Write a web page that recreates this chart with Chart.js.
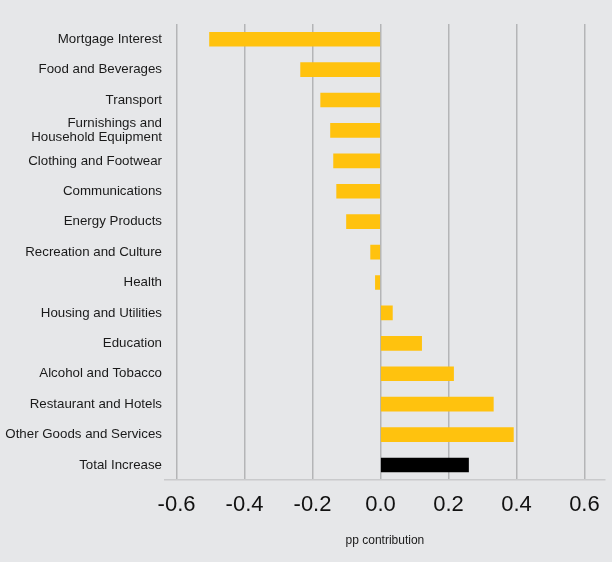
<!DOCTYPE html>
<html>
<head>
<meta charset="utf-8">
<script src="https://cdn.jsdelivr.net/npm/chart.js@4"></script>
<style>
  html, body { margin: 0; padding: 0; background: #e6e7e9; }
  #wrap { width: 612px; height: 562px; }
</style>
</head>
<body>
<div id="wrap"><canvas id="contribChart" width="612" height="562"></canvas></div>
<script>
const categories = [
    'Mortgage Interest',
    'Food and Beverages',
    'Transport',
    ['Furnishings and', 'Household Equipment'],
    'Clothing and Footwear',
    'Communications',
    'Energy Products',
    'Recreation and Culture',
    'Health',
    'Housing and Utilities',
    'Education',
    'Alcohol and Tobacco',
    'Restaurant and Hotels',
    'Other Goods and Services',
    'Total Increase'
];
const contributions = [-0.503, -0.235, -0.176, -0.147, -0.138, -0.129, -0.100, -0.029, -0.015, 0.035, 0.121, 0.215, 0.332, 0.391, 0.259];
const tickValues = [-0.6, -0.4, -0.2, 0.0, 0.2, 0.4, 0.6];

const barColors = categories.map((c, i) => i === categories.length - 1 ? '#000000' : '#ffc20e');

Chart.defaults.font.family = '"Liberation Sans", Arial, Helvetica, sans-serif';
Chart.defaults.color = '#1a1a1a';

const ctx = document.getElementById('contribChart').getContext('2d');
new Chart(ctx, {
    type: 'bar',
    data: {
        labels: categories,
        datasets: [{
            label: 'pp contribution',
            data: contributions,
            backgroundColor: barColors,
            borderWidth: 0,
            barThickness: 14
        }]
    },
    options: {
        indexAxis: 'y',
        responsive: false,
        animation: false,
        layout: {
            padding: { top: 24, right: 6, bottom: 14, left: 0 }
        },
        plugins: {
            legend: { display: false },
            tooltip: { enabled: false }
        },
        scales: {
            x: {
                min: -0.634,
                max: 0.66,
                afterBuildTicks: function(scale) {
                    scale.ticks = tickValues.map(v => ({ value: v }));
                },
                grid: {
                    color: '#b4b5b7',
                    lineWidth: 1.5,
                    drawTicks: false
                },
                border: {
                    display: true,
                    color: '#c9cacc',
                    width: 1.5
                },
                ticks: {
                    padding: 12,
                    font: { size: 22 },
                    color: '#111111',
                    callback: function(value) {
                        return Number(value).toFixed(1);
                    }
                },
                title: {
                    display: true,
                    text: 'pp contribution',
                    font: { size: 12 },
                    color: '#1a1a1a',
                    padding: { top: 3, bottom: 0 }
                }
            },
            y: {
                grid: { display: false, drawTicks: false },
                border: { display: false },
                ticks: {
                    padding: 3,
                    font: { size: 13.3, lineHeight: 1.08 },
                    color: '#1a1a1a',
                    autoSkip: false
                },
                afterFit: function(scale) {
                    scale.width = 165;
                }
            }
        }
    }
});
</script>
</body>
</html>
